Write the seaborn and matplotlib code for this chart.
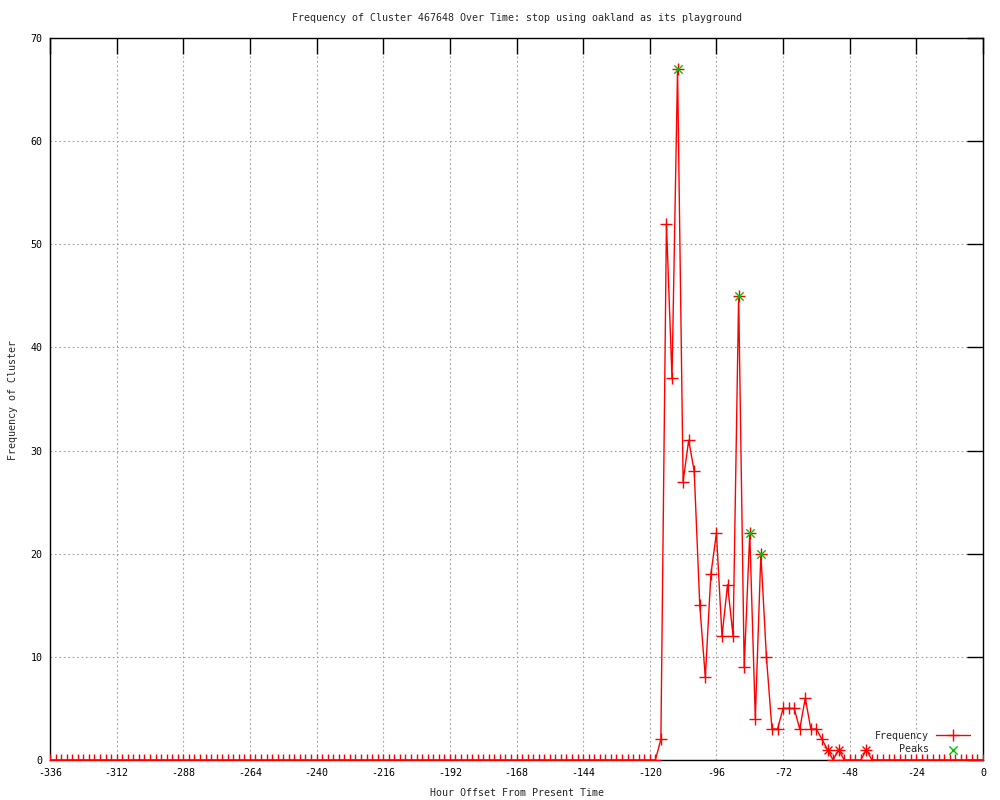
import matplotlib
matplotlib.use("Agg")
import matplotlib.pyplot as plt
import seaborn as sns
import numpy as np

# ---- data ----
hours = list(range(-336, 1, 2))
freq = [
    0, 0, 0, 0, 0, 0, 0, 0, 0, 0, 0, 0, 0, 0, 0, 0, 0, 0, 0, 0,
    0, 0, 0, 0, 0, 0, 0, 0, 0, 0, 0, 0, 0, 0, 0, 0, 0, 0, 0, 0,
    0, 0, 0, 0, 0, 0, 0, 0, 0, 0, 0, 0, 0, 0, 0, 0, 0, 0, 0, 0,
    0, 0, 0, 0, 0, 0, 0, 0, 0, 0, 0, 0, 0, 0, 0, 0, 0, 0, 0, 0,
    0, 0, 0, 0, 0, 0, 0, 0, 0, 0, 0, 0, 0, 0, 0, 0, 0, 0, 0, 0,
    0, 0, 0, 0, 0, 0, 0, 0, 0,
    # -118 .. -42
    0, 2, 52, 37, 67, 27, 31, 28, 15, 8,
    18, 22, 12, 17, 12, 45, 9, 22, 4, 20,
    10, 3, 3, 5, 5, 5, 3, 6, 3, 3,
    2, 1, 0, 1, 0, 0, 0, 0, 1,
    # -40 .. 0
    0, 0, 0, 0, 0, 0, 0, 0, 0, 0, 0, 0, 0, 0, 0, 0, 0, 0, 0, 0, 0,
]
peak_hours = [-110, -88, -84, -80]
peak_vals = [67, 45, 22, 20]
star_hours = [-56, -52, -42]
star_vals = [1, 1, 1]

title = "Frequency of Cluster 467648 Over Time: stop using oakland as its playground"
xlabel = "Hour Offset From Present Time"
ylabel = "Frequency of Cluster"
xticks = list(range(-336, 1, 24))
yticks = list(range(0, 71, 10))

# ---- style ----
sns.set_style("white")
plt.rcParams["font.family"] = ["DejaVu Sans Mono", "DejaVu Sans"]
plt.rcParams["font.size"] = 7
plt.rcParams["axes.unicode_minus"] = False

fig = plt.figure(figsize=(10, 8), dpi=100)
ax = fig.add_axes([0.05, 0.05, 0.933, 0.9025])

sns.lineplot(x=hours, y=freq, ax=ax, color="red", linewidth=1,
             marker="+", markersize=8, markeredgewidth=1,
             markeredgecolor="red", label="Frequency", zorder=3)
sns.scatterplot(x=star_hours, y=star_vals, ax=ax, marker="x", color="red",
                s=32, linewidth=1, legend=False, zorder=4)
sns.scatterplot(x=peak_hours, y=peak_vals, ax=ax, marker="x", color="#00c000",
                s=36, linewidth=1, label="Peaks", zorder=5)

ax.set_xlim(-336, 0)
ax.set_ylim(0, 70)
ax.set_xticks(xticks)
ax.set_yticks(yticks)
ax.set_xlabel("")
ax.set_ylabel("")
ax.tick_params(direction="in", length=11.5, width=1, top=True, right=True,
               labelsize=7.2, pad=5.5, colors="black")
ax.grid(True, color="#a0a0a0", linestyle=(0, (1.5, 2.5)), linewidth=0.8)
ax.set_axisbelow(True)
for sp in ax.spines.values():
    sp.set_color("black")
    sp.set_linewidth(1)

leg = ax.legend(loc="lower right", bbox_to_anchor=(0.986, 0.008), frameon=False,
                markerfirst=False, handlelength=3.4, handletextpad=0.7,
                labelspacing=0.35, borderpad=0, borderaxespad=0, fontsize=7.2)

fig.text(0.5165, 0.9775, title, ha="center", va="center", fontsize=7.2)
fig.text(0.5165, 0.009, xlabel, ha="center", va="center", fontsize=7.2)
fig.text(0.013, 0.5, ylabel, ha="center", va="center", rotation=90, fontsize=7.2)

fig.savefig("out.png", dpi=100)
